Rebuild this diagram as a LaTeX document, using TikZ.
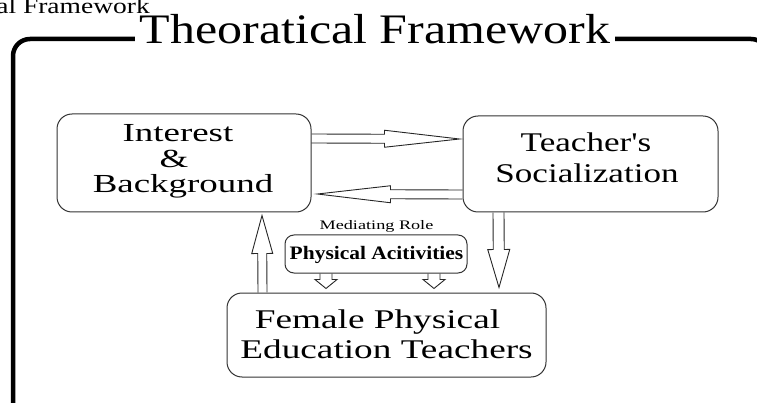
\documentclass[tikz,border=0pt]{standalone}
\usepackage{fontspec}
\usepackage{graphicx}
\setmainfont{Liberation Serif}[Ligatures=TeXOff]
\usetikzlibrary{calc}

% horizontally stretched text
\newcommand\widen[2]{\scalebox{#1}[1]{#2}}

% hollow block arrow: tail, tip, shaft half-width, head half-width, head length
\newcommand\blockarrow[5]{%
  \coordinate (ba-h) at ($(#2)!#5!(#1)$);
  \draw[blockline] ($(#1)!#3!90:(#2)$) -- ($(ba-h)!#3!-90:(#1)$)
    -- ($(ba-h)!#4!-90:(#1)$) -- (#2) -- ($(ba-h)!#4!90:(#1)$)
    -- ($(ba-h)!#3!90:(#1)$) -- ($(#1)!#3!-90:(#2)$);}

\tikzset{
  panel/.style={draw=black!80, line width=1pt, rounded corners=15pt, inner sep=0pt},
  smallpanel/.style={draw=black!80, line width=1pt, rounded corners=9pt, inner sep=0pt},
  blockline/.style={draw=black!85, line width=0.9pt, line join=miter},
  frameline/.style={line width=4.5pt, rounded corners=17pt},
  txt/.style={anchor=base, inner sep=0pt},
}

\begin{document}
\begin{tikzpicture}[x=1pt,y=-1pt]
\path[use as bounding box] (0,0) rectangle (757,403);
\begin{scope}
\clip (0,0) rectangle (757,403);

% caption line cut by the top edge
\node[anchor=base east, inner sep=0pt, font=\fontsize{22}{26}\selectfont] (caption) at (150,14)
  {\widen{1.25}{cal Framework}};

% outer frame with its title
\draw[frameline] (13,408) -- (13,39) -- (768,39) -- (768,408);
\node[txt, fill=white, inner xsep=5pt] (title) at (375,44)
  {\fontsize{42}{46}\selectfont\widen{1.19}{Theoratical Framework}};

% boxes
\node[panel, minimum width=254pt, minimum height=98pt] (ib) at (184,163) {};
\node[panel, minimum width=255pt, minimum height=96pt] (ts) at (590.5,164) {};
\node[panel, minimum width=319pt, minimum height=84pt] (fe) at (386.5,335) {};
\node[smallpanel, minimum width=182pt, minimum height=38pt] (pa) at (376,254) {};

% box texts
\begin{scope}[font=\fontsize{26}{30}\selectfont]
  \node[txt] (ib1) at (178,142) {\widen{1.42}{Interest}};
  \node[txt] (ib2) at (174,168) {\widen{1.42}{\&}};
  \node[txt] (ib3) at (183,193) {\widen{1.42}{Background}};
\end{scope}
\begin{scope}[font=\fontsize{27}{31}\selectfont]
  \node[txt] (ts1) at (586,152) {\widen{1.3}{Teacher's}};
  \node[txt] (ts2) at (587,183) {\widen{1.3}{Socialization}};
  \node[txt] (fe1) at (377.5,328) {\widen{1.38}{Female Physical}};
  \node[txt] (fe2) at (386.5,358) {\widen{1.38}{Education Teachers}};
\end{scope}
\node[txt, font=\fontsize{13}{15}\selectfont] (med) at (376.5,230) {\widen{1.4}{Mediating Role}};
\node[txt, font=\fontsize{19}{22}\selectfont\bfseries] (pa1) at (376.5,260) {\widen{1.13}{Physical Acitivities}};

% arrow end points
\path (ib.east) ++(0,-24.5) coordinate (a1t);
\path (ts.west) ++(-3,-25) coordinate (a1h);
\path (ts.west) ++(0,30.5) coordinate (a2t);
\path (ib.east) ++(6,31) coordinate (a2h);
\path (ts.south) ++(-92,0) coordinate (a3t);
\path (fe.north) ++(112.5,-5) coordinate (a3h);
\path (fe.north) ++(-124,0) coordinate (a4t);
\path (ib.south) ++(78,3) coordinate (a4h);
\path (pa.south) ++(-50,0) coordinate (a5t);
\path (fe.north) ++(-60.5,-4) coordinate (a5h);
\path (pa.south) ++(58,0) coordinate (a6t);
\path (fe.north) ++(47.5,-4) coordinate (a6h);

% connectors
\blockarrow{a1t}{a1h}{4.5pt}{8.5pt}{75pt}
\blockarrow{a2t}{a2h}{4.5pt}{8.5pt}{73pt}
\blockarrow{a3t}{a3h}{5.5pt}{11pt}{38pt}
\blockarrow{a4t}{a4h}{4.5pt}{10.5pt}{38pt}
\blockarrow{a5t}{a5h}{6pt}{11pt}{9pt}
\blockarrow{a6t}{a6h}{6pt}{11pt}{9pt}
\end{scope}
\end{tikzpicture}
\end{document}
